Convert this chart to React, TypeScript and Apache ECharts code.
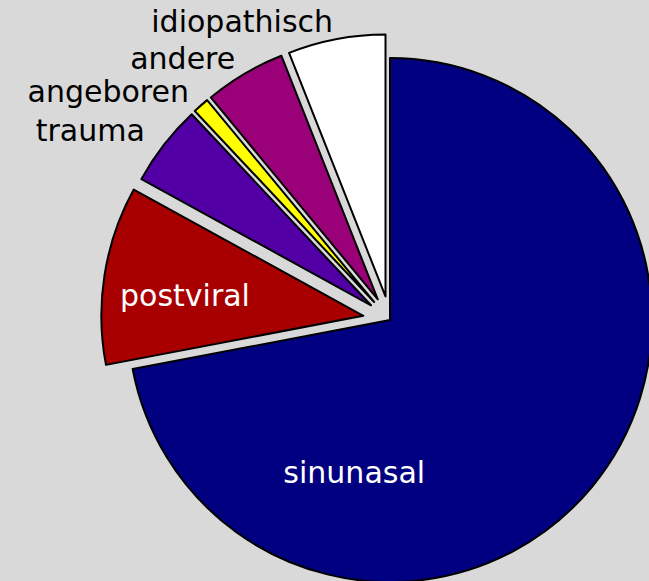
import React, { useEffect, useRef } from 'react';
import * as echarts from 'echarts';

const categories = ['sinunasal', 'postviral', 'trauma', 'angeboren', 'andere', 'idiopathisch'];
const values = [72, 11, 5, 1, 5, 6];

// styles
const colors = ['#000080', '#a80000', '#5200a6', '#ffff00', '#9a0078', '#ffffff'];
const explode = [0, 27, 24, 24, 24, 24];
const inside = [true, true, false, false, false, false];
const insideOffsets: Record<string, number[]> = { sinunasal: [-139, 67], postviral: [-46, 1] };
const outsideOffsets: Record<string, number[]> = { trauma: [-5, -3], angeboren: [0, 0], andere: [0, 0], idiopathisch: [0, 0] };
const FONT = '"DejaVu Sans", Verdana, sans-serif';
const FONT_SIZE = 30;

const W = 649;
const H = 581;
const CX = 390;
const CY = 320;
const R = 262;

export default function App() {
  const ref = useRef<HTMLDivElement>(null);
  useEffect(() => {
    if (!ref.current) return;
    const chart = echarts.init(ref.current, undefined, { renderer: 'svg' });
    const total = values.reduce((a, b) => a + b, 0);
    let cum = 0;
    const series = values.map((v, i) => {
      const mid = ((cum + v / 2) / total) * Math.PI * 2;
      cum += v;
      const dx = Math.sin(mid) * explode[i];
      const dy = -Math.cos(mid) * explode[i];
      return {
        type: 'pie',
        silent: true,
        center: [CX + dx, CY + dy],
        radius: R,
        startAngle: 90,
        clockwise: true,
        avoidLabelOverlap: false,
        minShowLabelAngle: 0,
        labelLayout: { hideOverlap: false },
        emphasis: { disabled: true },
        labelLine: { show: false, length: 18, length2: 0 },
        data: categories.map((name, j) => {
          if (j !== i) {
            return {
              name,
              value: values[j],
              itemStyle: { color: 'rgba(0,0,0,0)', borderWidth: 0, borderColor: 'rgba(0,0,0,0)' },
              label: { show: false },
            };
          }
          return {
            name,
            value: values[j],
            itemStyle: { color: colors[j], borderColor: '#000', borderWidth: 2 },
            label: inside[j]
              ? {
                  show: true,
                  position: 'inside',
                  color: '#ffffff',
                  fontSize: FONT_SIZE,
                  fontFamily: FONT,
                  offset: insideOffsets[name],
                  formatter: '{b}',
                }
              : {
                  show: true,
                  position: 'outside',
                  alignTo: 'none',
                  distanceToLabelLine: 0,
                  color: '#000000',
                  fontSize: FONT_SIZE,
                  fontFamily: FONT,
                  offset: outsideOffsets[name],
                  formatter: '{b}',
                },
          };
        }),
      };
    });
    chart.setOption({
      animation: false,
      backgroundColor: '#d9d9d9',
      series,
    } as any);
    return () => chart.dispose();
  }, []);
  return (
    <div
      ref={ref}
      style={{ position: 'absolute', left: 0, top: 0, width: W, height: H, background: '#d9d9d9' }}
    />
  );
}
